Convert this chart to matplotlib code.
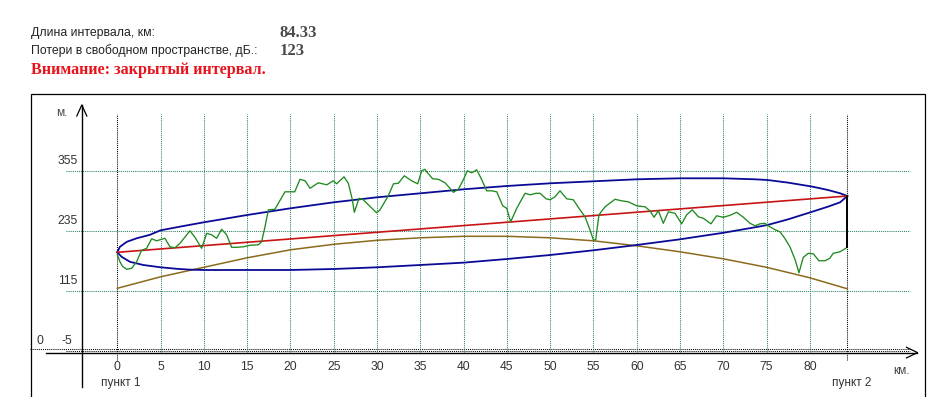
import matplotlib
matplotlib.use("Agg")
import matplotlib.pyplot as plt
from matplotlib.patches import Rectangle

# ---------------- data ----------------
interval_km = 84.33
loss_db = 123

terrain_km = [0.00, 0.31, 0.60, 1.08, 1.66, 2.23, 2.81, 3.39, 3.97, 4.54, 4.93, 5.50, 6.08, 6.66,
              7.24, 8.39, 8.97, 9.74, 10.32, 10.90, 11.47, 12.05, 12.63, 13.20, 13.80, 14.56,
              15.30, 16.30, 16.67, 17.06, 17.45, 18.20, 19.37, 20.50, 21.10, 21.70, 22.26, 23.22,
              24.20, 24.95, 25.34, 26.19, 26.69, 27.15, 27.38, 27.92, 28.42, 29.00, 29.96, 30.35,
              31.30, 31.90, 32.46, 33.15, 34.00, 34.70, 35.16, 35.54, 35.74, 36.43, 37.09, 37.86,
              38.43, 38.82, 39.40, 39.97, 40.44, 40.94, 41.52, 42.10, 42.67, 43.25, 43.83, 44.52,
              44.98, 45.44, 46.14, 47.10, 47.68, 48.37, 48.83, 49.53, 49.99, 50.56, 51.14, 51.91,
              52.68, 53.45, 54.03, 54.60, 54.99, 55.26, 55.64, 56.34, 57.49, 58.26, 59.03, 59.99,
              60.96, 61.53, 62.00, 62.50, 63.07, 63.65, 64.42, 65.19, 65.77, 66.42, 67.12, 67.69,
              68.58, 69.23, 70.00, 70.78, 71.55, 72.32, 73.09, 73.67, 74.24, 74.80, 75.20, 76.00,
              76.55, 77.10, 77.70, 78.30, 78.74, 79.24, 79.82, 80.40, 81.05, 81.75, 82.30, 82.70,
              83.48, 84.33]
terrain_m = [189, 174, 165, 159, 161, 174, 197, 201, 220, 216, 218, 221, 204, 202,
             211, 236, 223, 201, 231, 228, 221, 239, 228, 203, 203, 204,
             207, 208, 214, 244, 278, 279, 314, 314, 339, 336, 321, 332,
             328, 336, 330, 344, 331, 298, 273, 301, 298, 288, 272, 278,
             306, 330, 331, 346, 336, 330, 356, 359, 354, 340, 339, 332,
             321, 313, 319, 338, 356, 352, 358, 338, 316, 316, 314, 286,
             281, 254, 281, 311, 308, 311, 311, 300, 298, 304, 316, 300,
             298, 278, 264, 238, 218, 218, 268, 284, 299, 296, 294, 286,
             284, 276, 263, 276, 251, 274, 271, 250, 268, 278, 264, 261,
             250, 266, 263, 267, 273, 263, 251, 246, 250, 251, 246, 238,
             234, 221, 204, 178, 152, 183, 191, 190, 176, 176, 181, 191,
             194, 203]

# line of sight (antenna to antenna)
los_km = [0.0, 84.33]
los_m = [193, 305.6]

# Fresnel zone boundaries
upper_km = [0, 0.3, 1.1, 2.23, 3.77, 5, 6.85, 8.4, 10, 15, 20, 25, 30, 35, 40, 45, 50, 55,
            60, 65, 70, 73.66, 75.1, 77.5, 80.3, 82.1, 83.5, 84.33]
upper_m = [193, 204, 214, 221, 228, 237, 243, 248, 253, 267.6, 281, 293, 303, 311, 319, 325.6,
           331, 335, 339, 341, 341, 339, 337.6, 332.3, 324.3, 317.6, 311, 305.6]
lower_km = [0, 0.5, 1.46, 3, 5, 6.85, 8.4, 10, 15, 20, 25, 30, 35, 40, 45, 50, 55, 60, 65,
            70, 73.66, 75.1, 77.5, 80.3, 82.1, 83.5, 84.33]
lower_m = [193, 184, 174, 167.6, 163, 160, 158.3, 157.6, 157.6, 157.6, 159.6, 163, 167.6,
           172.3, 179.6, 187.6, 197, 207.6, 219, 232, 243, 247.6, 259, 274.3, 284.3, 293, 305.6]

# earth curvature line
curv_km = [0, 5, 10, 15, 20, 25, 30, 35, 40, 45, 50, 55, 60, 65, 70, 75, 80, 84.33]
curv_m = [121, 144, 163, 182, 198, 209, 217, 222, 225, 225, 222, 216, 206, 194, 180, 163, 142, 120]

x_ticks = [0, 5, 10, 15, 20, 25, 30, 35, 40, 45, 50, 55, 60, 65, 70, 75, 80]
y_ticks = [355, 235, 115]
y_bottom_tick = -5
zero_level = 0

# ---------------- layout ----------------
W, H = 943, 397
fig = plt.figure(figsize=(W / 100, H / 100), dpi=100)
fig.patch.set_facecolor("white")
ax = fig.add_axes([0, 0, 1, 1])
X0, SX = 117.3, 8.657      # pixel of 0 km, pixels per km
Y355, SY = 171.3, 0.5      # pixel of 355 m, pixels per m


def px2x(px):
    return (px - X0) / SX


def px2y(py):
    return 355 - (py - Y355) / SY


def F(px, py):
    return (px / W, 1 - py / H)


ax.set_xlim(px2x(0), px2x(W))
ax.set_ylim(px2y(H), px2y(0))
ax.axis("off")

SANS = "Liberation Sans"
SERIF = "Liberation Serif"
TEAL = "#2f7f6a"
DOT = (0, (1, 1))

# header
fig.text(*F(31, 33), "Длина интервала, км:", family=SANS, size=8.8, va="center", color="#222222")
fig.text(*F(280, 33), f"{interval_km:.2f}", family=SERIF, weight="bold", size=12, va="center",
         color="#4a4a4a")
fig.text(*F(31, 51), "Потери в свободном пространстве, дБ.:", family=SANS, size=8.8, va="center",
         color="#222222")
fig.text(*F(280, 51), f"{loss_db}", family=SERIF, weight="bold", size=12, va="center",
         color="#4a4a4a")
fig.text(*F(31, 70), "Внимание: закрытый интервал.", family=SERIF, weight="bold", size=11.6,
         va="center", color="#e8131b")

# frame
fig.patches.append(Rectangle(F(31, 400), (925 - 31) / W, (400 - 94) / H, fill=False,
                             edgecolor="black", lw=0.9, transform=fig.transFigure))

# horizontal grid
for v in y_ticks:
    ax.plot([px2x(66), px2x(910)], [v, v], color=TEAL, lw=0.75, ls=DOT)
    ax.text(px2x(68), v + 20, str(v), ha="center", va="center", family=SANS, size=8.7,
            color="#333333")
ax.plot([px2x(66), px2x(910)], [y_bottom_tick, y_bottom_tick], color="black", lw=0.75, ls=DOT)
ax.text(px2x(67), y_bottom_tick + 20, str(y_bottom_tick), ha="center", va="center", family=SANS,
        size=8.7, color="#333333")
ax.plot([px2x(30), px2x(910)], [zero_level, zero_level], color="black", lw=0.75, ls=DOT)
ax.text(px2x(40), zero_level + 16, str(zero_level), ha="center", va="center", family=SANS,
        size=8.7, color="#333333")

# vertical grid
for k in x_ticks[1:]:
    ax.plot([k, k], [px2y(352), px2y(114)], color=TEAL, lw=0.75, ls=DOT)
for k in [x_ticks[0], interval_km]:
    ax.plot([k, k], [px2y(360), px2y(114)], color="black", lw=0.75, ls=DOT)
for k in x_ticks:
    ax.text(k, px2y(367.5), str(k), ha="center", va="center", family=SANS, size=8.7,
            color="#333333")

# axes with arrows
yax = px2y(352.6)
ax.plot([px2x(46), px2x(917.5)], [yax, yax], color="black", lw=1.0)
ax.plot([px2x(906.5), px2x(917.5), px2x(906.5)], [px2y(347.3), yax, px2y(357.9)],
        color="black", lw=0.9)
xax = px2x(81.8)
ax.plot([xax, xax], [px2y(387), px2y(105)], color="black", lw=1.0)
ax.plot([px2x(76.8), xax, px2x(86.8)], [px2y(116), px2y(105), px2y(116)], color="black", lw=0.9)

ax.text(px2x(62), px2y(113), "м.", ha="center", va="center", family=SANS, size=8.5,
        color="#444444")
ax.text(px2x(902), px2y(371), "км.", ha="center", va="center", family=SANS, size=8.5,
        color="#444444")
ax.text(x_ticks[0] + px2x(121) - px2x(117.3), px2y(383), "пункт 1", ha="center", va="center",
        family=SANS, size=8.5, color="#333333")
ax.text(interval_km + px2x(852) - px2x(847.3), px2y(383), "пункт 2", ha="center", va="center",
        family=SANS, size=8.5, color="#333333")

# curves
ax.plot(curv_km, curv_m, color="#8c6a1c", lw=1.1)
ax.plot(lower_km, lower_m, color="#0a0a96", lw=1.3)
ax.plot(upper_km, upper_m, color="#0a0a96", lw=1.3)
ax.plot(los_km, los_m, color="#c81414", lw=1.2)
ax.plot(terrain_km, terrain_m, color="#1f8a1f", lw=0.95)
ax.plot([terrain_km[-1], los_km[-1]], [terrain_m[-1], los_m[-1]], color="black", lw=1.4)

fig.savefig("out.png", dpi=100, facecolor="white")
